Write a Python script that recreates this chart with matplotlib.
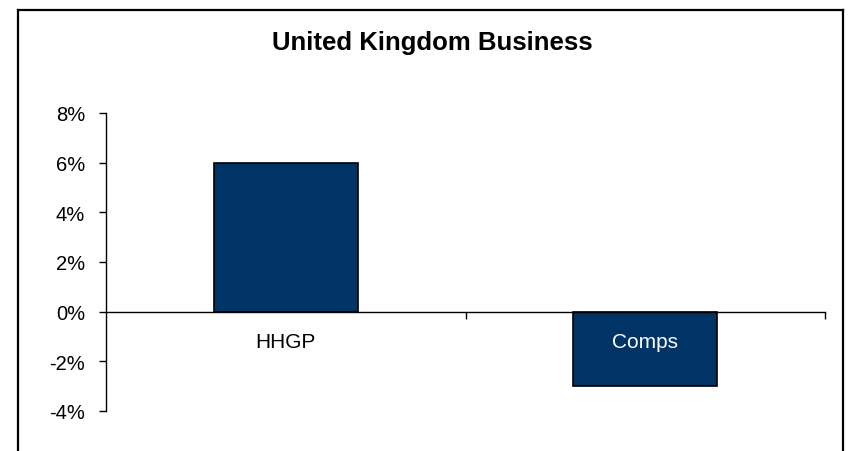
import matplotlib
matplotlib.use("Agg")
import matplotlib.pyplot as plt
from matplotlib.lines import Line2D
from matplotlib.ticker import FuncFormatter

categories = ["HHGP", "Comps"]
values = [6, -3]
yticks = [-4, -2, 0, 2, 4, 6, 8]
title = "United Kingdom Business"

plt.rcParams['font.family'] = ['Liberation Sans', 'DejaVu Sans']

W, H = 848, 452
fig = plt.figure(figsize=(W / 100, H / 100), dpi=100)
ax = fig.add_axes([106 / W, 1 - 412 / H, (825 - 106) / W, (412 - 114) / H])

x = list(range(len(categories)))
ax.bar(x, values, width=0.4, color="#003366", edgecolor="black", linewidth=1.2, zorder=1)

ax.set_xlim(-0.5, len(categories) - 0.5)
ax.set_ylim(-4, 8)
ax.set_yticks(yticks)
ax.yaxis.set_major_formatter(FuncFormatter(lambda v, p: f"{v:.0f}%"))
ax.tick_params(axis='y', direction='out', length=5, width=1, labelsize=14.5, pad=10)

for s in ['top', 'right']:
    ax.spines[s].set_visible(False)
ax.spines['bottom'].set_position(('data', 0))
ax.spines['left'].set_linewidth(1)
ax.spines['bottom'].set_linewidth(1)

ax.set_xticks([i + 0.5 for i in x])
ax.set_xticklabels([])
ax.tick_params(axis='x', direction='out', length=5, width=1)
ax.set_xticks(x, minor=True)
ax.set_xticklabels(categories, minor=True)
ax.tick_params(axis='x', which='minor', length=0, labelsize=15, pad=15)
labs = ax.get_xticklabels(minor=True)
labs[1].set_color("white")

fig.text(432 / W, 1 - 50 / H, title, ha='center', va='baseline', fontsize=18.5, fontweight='bold')

lw = 1.6
fig.add_artist(Line2D([18 / W, 18 / W], [0, 1 - 11 / H], transform=fig.transFigure, color='black', lw=lw))
fig.add_artist(Line2D([18 / W, 843 / W], [1 - 11 / H, 1 - 11 / H], transform=fig.transFigure, color='black', lw=lw))
fig.add_artist(Line2D([843 / W, 843 / W], [0, 1 - 11 / H], transform=fig.transFigure, color='black', lw=lw))

fig.savefig("out.png", dpi=100)
